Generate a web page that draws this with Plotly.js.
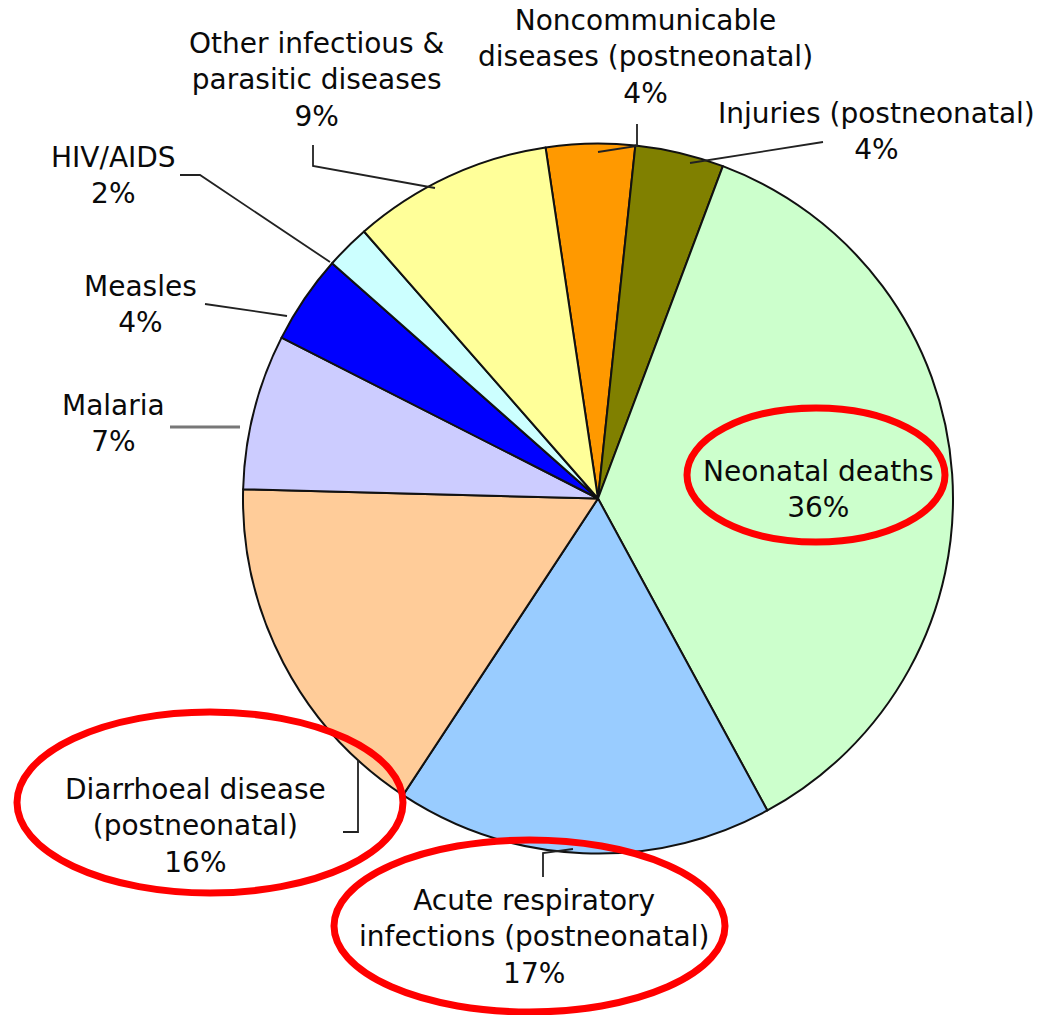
<!DOCTYPE html>
<html>
<head>
<meta charset="utf-8">
<script src="https://cdn.plot.ly/plotly-3.0.1.min.js"></script>
<style>html,body{margin:0;padding:0;background:#fff;}#chart{width:1061px;height:1015px;}</style>
</head>
<body>
<div id="chart"></div>
<script>
// Data (clockwise from top)
var categories = [
  "Noncommunicable<br>diseases (postneonatal)",
  "Injuries (postneonatal)",
  "Neonatal deaths",
  "Acute respiratory<br>infections (postneonatal)",
  "Diarrhoeal disease<br>(postneonatal)",
  "Malaria",
  "Measles",
  "HIV/AIDS",
  "Other infectious &<br>parasitic diseases"
];
var values = [4, 4, 36, 17, 16, 7, 4, 2, 9];
var sliceColors = ["#FF9900", "#808000", "#CCFFCC", "#99CCFF", "#FFCC99", "#CCCCFF", "#0000FF", "#CCFFFF", "#FFFF99"];

// Layout helpers (pixel -> paper)
var W = 1061, H = 1015;
function px(x) { return x / W; }
function py(y) { return 1 - y / H; }

// Label block centres (pixels), same order as categories
var labelPos = [
  [645, 57], [876, 132], [818, 489], [534, 937], [195, 826],
  [113, 423], [140, 305], [113, 176], [316, 80]
];

var cx = 598, cy = 498.5, R = 355;

var trace = {
  type: "pie",
  values: values,
  labels: categories,
  marker: { colors: sliceColors, line: { color: "#111111", width: 2 } },
  sort: false,
  direction: "clockwise",
  rotation: -8.5,
  textinfo: "none",
  hoverinfo: "none",
  showlegend: false,
  domain: { x: [px(cx - R), px(cx + R)], y: [py(cy + R), py(cy - R)] }
};

var annotations = categories.map(function (c, i) {
  return {
    text: c + "<br>" + values[i] + "%",
    x: px(labelPos[i][0]), y: py(labelPos[i][1]),
    xref: "paper", yref: "paper",
    xanchor: "center", yanchor: "middle",
    showarrow: false, align: "center",
    font: { family: "DejaVu Sans", size: 28, color: "#0a0a0a" }
  };
});

function pathOf(pts) {
  return pts.map(function (p, k) { return (k ? "L" : "M") + px(p[0]) + "," + py(p[1]); }).join(" ");
}
var leaders = [
  [[637, 124], [637, 146], [598, 152]],
  [[823, 142], [690, 163]],
  [[343, 832], [358, 832], [358, 760]],
  [[543, 877], [543, 853], [573, 849]],
  [[170, 427], [240, 427]],
  [[205, 304], [287, 316]],
  [[180, 175], [200, 175], [330, 262]],
  [[313, 145], [313, 166], [435, 188]]
];
var shapes = leaders.map(function (pts, i) {
  return {
    type: "path", xref: "paper", yref: "paper", path: pathOf(pts),
    line: { color: i === 4 ? "#777" : "#222", width: i === 4 ? 3 : 1.8 }
  };
});
var ellipses = [
  [687, 408, 945, 542],
  [17, 712, 403, 893],
  [334, 840, 725, 1012]
];
ellipses.forEach(function (e) {
  shapes.push({
    type: "circle", xref: "paper", yref: "paper",
    x0: px(e[0]), x1: px(e[2]), y0: py(e[3]), y1: py(e[1]),
    line: { color: "#FF0000", width: 7 }, fillcolor: "rgba(0,0,0,0)"
  });
});

var layout = {
  width: W, height: H,
  margin: { l: 0, r: 0, t: 0, b: 0 },
  paper_bgcolor: "#ffffff",
  plot_bgcolor: "#ffffff",
  showlegend: false,
  annotations: annotations,
  shapes: shapes
};

Plotly.newPlot("chart", [trace], layout, { displayModeBar: false, staticPlot: true });
</script>
</body>
</html>
